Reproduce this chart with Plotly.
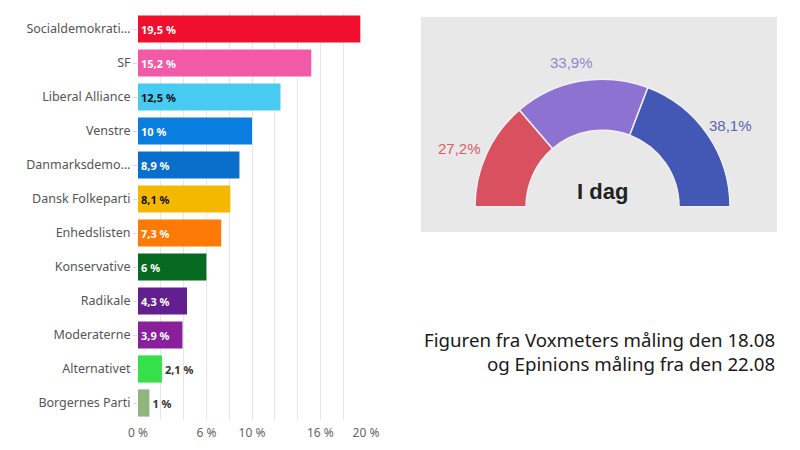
import plotly.graph_objects as go

# meningsmåling (Voxmeter 18.08)
partier = ["Socialdemokrati…", "SF", "Liberal Alliance", "Venstre", "Danmarksdemo…",
           "Dansk Folkeparti", "Enhedslisten", "Konservative", "Radikale",
           "Moderaterne", "Alternativet", "Borgernes Parti"]
procent = [19.5, 15.2, 12.5, 10, 8.9, 8.1, 7.3, 6, 4.3, 3.9, 2.1, 1]
farver = ["#f0102e", "#f25aa8", "#48cbf0", "#0a7de0", "#0a6fca", "#f5b800",
          "#fd7a06", "#066b20", "#61208e", "#8a1f9c", "#35e04a", "#8fb67f"]
tekstfarver = ["white", "white", "#111", "white", "white", "#111",
               "white", "white", "white", "white", "#333", "#333"]
tekstplacering = ["inside"] * 10 + ["outside"] * 2

xtick_vals = [0, 2, 4, 6, 8, 10, 12, 14, 16, 18, 20]
xtick_text = ["0 %", "", "", "6 %", "", "10 %", "", "", "16 %", "", "20 %"]

# blokke (Epinion 22.08)
blok_navne = ["Rød", "Midte", "Blå"]
blok_procent = [27.2, 33.9, 38.1]
blok_farver = ["#d9505e", "#8e72d2", "#4258b4"]
blok_tekstfarver = ["#d6606a", "#9585d0", "#5866b0"]

W, H = 800, 450
OFF = 8  # siden har 8px body-margin


def px(x):
    return (x - OFF) / W


def py(y):
    return 1 - (y - OFF) / H


def fmt(v, space=" "):
    return f"{v:g}".replace(".", ",") + space + "%"


fig = go.Figure()

fig.add_trace(go.Bar(
    x=procent, y=partier, orientation="h",
    marker=dict(color=farver, line=dict(width=0)),
    text=[fmt(v) for v in procent],
    textposition=tekstplacering,
    insidetextanchor="start",
    textfont=dict(color=tekstfarver, size=11, family="Noto Sans", weight="bold"),
    cliponaxis=False, showlegend=False, hoverinfo="none",
))

# halv donut som "gauge" - sidste skive er usynlig
fig.add_trace(go.Pie(
    values=blok_procent + [sum(blok_procent)],
    labels=blok_navne + ["skjult"],
    marker=dict(colors=blok_farver + ["rgba(0,0,0,0)"],
                line=dict(color=["#f3eef5"] * 3 + ["rgba(0,0,0,0)"], width=1.5)),
    hole=0.6, sort=False, direction="clockwise", rotation=270,
    textinfo="none", hoverinfo="none", showlegend=False,
    domain=dict(x=[px(475), px(730)], y=[py(334.2), py(79.2)]),
))

fig.update_layout(
    width=W, height=H,
    margin=dict(l=0, r=0, t=0, b=0, autoexpand=False),
    paper_bgcolor="white", plot_bgcolor="white",
    bargap=0.2,
    font=dict(family="Noto Sans", color="#555"),
    xaxis=dict(domain=[px(138), px(366)], range=[0, 20], automargin=False,
               tickvals=xtick_vals, ticktext=xtick_text, ticklabelstandoff=4,
               showgrid=True, gridcolor="#e6e6e6", gridwidth=1,
               zeroline=False, showline=False,
               tickfont=dict(size=12, color="#666")),
    yaxis=dict(domain=[py(420), py(12)], autorange="reversed", automargin=False,
               ticks="outside", ticklen=4, tickcolor="#dddddd",
               tickfont=dict(size=12.5, color="#555"), showgrid=False),
    shapes=[dict(type="rect", xref="paper", yref="paper",
                 x0=px(421), x1=px(777), y0=py(232), y1=py(17),
                 fillcolor="#e8e8e8", line=dict(width=0), layer="below")],
)

label_pos = [(460, 148), (571, 62), (730, 125)]
for v, c, (x, y) in zip(blok_procent, blok_tekstfarver, label_pos):
    fig.add_annotation(x=px(x), y=py(y), xref="paper", yref="paper",
                       xanchor="center", yanchor="middle",
                       text=fmt(v, ""), showarrow=False,
                       font=dict(family="Liberation Sans", size=15, color=c))

fig.add_annotation(x=px(602), y=py(191), xref="paper", yref="paper",
                   xanchor="center", yanchor="middle",
                   text="<b>I dag</b>", showarrow=False,
                   font=dict(family="Liberation Sans", size=22, color="#222"))

fig.add_annotation(x=px(777), y=py(351), xref="paper", yref="paper",
                   xanchor="right", yanchor="middle", align="right", showarrow=False,
                   text="Figuren fra Voxmeters måling den 18.08<br>og Epinions måling fra den 22.08",
                   font=dict(family="Noto Sans", size=18.7, color="#1a1a1a"))

fig.write_html("out.html")
